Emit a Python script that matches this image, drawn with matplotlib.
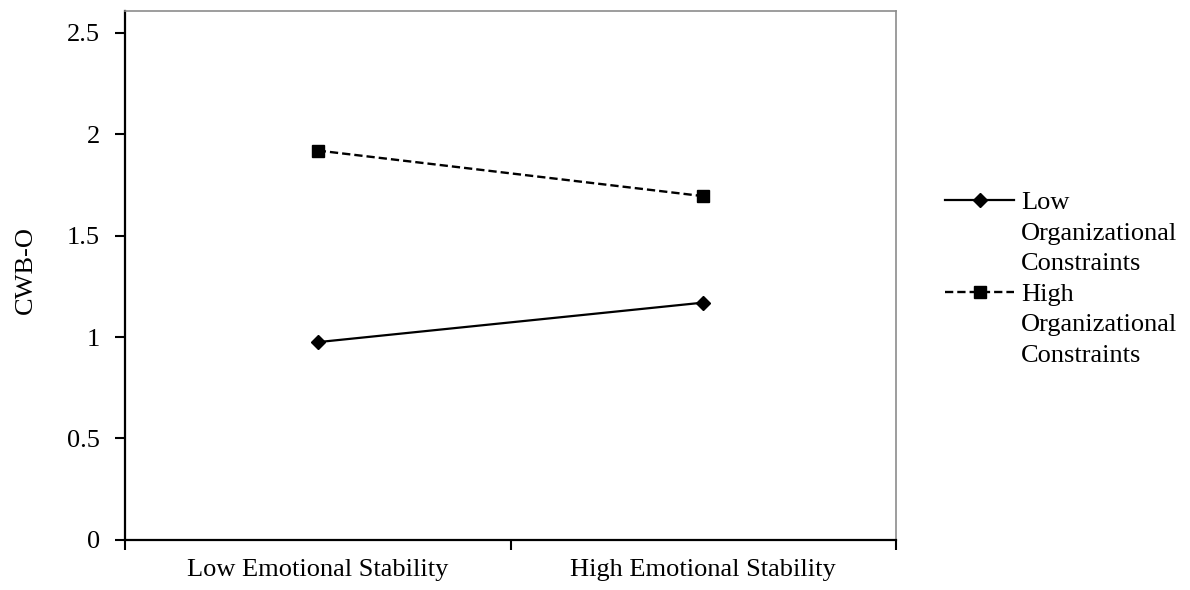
import matplotlib
matplotlib.use('Agg')
import matplotlib.pyplot as plt
from matplotlib.lines import Line2D

plt.rcParams['font.family'] = ['Liberation Serif', 'DejaVu Serif']

categories = ['Low Emotional Stability', 'High Emotional Stability']
low_constraints = [0.975, 1.17]
high_constraints = [1.92, 1.695]
series_labels = [['Low', 'Organizational', 'Constraints'],
                 ['High', 'Organizational', 'Constraints']]
y_ticks = [0, 0.5, 1, 1.5, 2, 2.5]
y_tick_labels = ['0', '0.5', '1', '1.5', '2', '2.5']

fs = 19

fig = plt.figure(figsize=(11.9, 5.9), dpi=100)
ax = fig.add_axes([0.105, 0.085, 0.648, 0.897])

x = [0.5, 1.5]
l1, = ax.plot(x, low_constraints, color='black', linewidth=1.6, marker='D', markersize=7.5)
l2, = ax.plot(x, high_constraints, color='black', linewidth=1.7, linestyle=(0, (3.5, 1.7)),
              marker='s', markersize=9)

ax.set_xlim(0, 2)
ax.set_ylim(0, 2.61)
ax.set_yticks(y_ticks)
ax.set_yticklabels(y_tick_labels)
ax.set_xticks([0, 1, 2])
ax.set_xticklabels([])
ax.set_xticks(x, minor=True)
ax.set_xticklabels(categories, minor=True)
ax.tick_params(axis='x', which='minor', length=0, pad=14, labelsize=fs)
ax.tick_params(axis='x', which='major', length=7, width=1.5, direction='out')
ax.tick_params(axis='y', length=7, width=1.5, direction='out', labelsize=fs, pad=11)

for s in ['left', 'bottom']:
    ax.spines[s].set_color('black')
    ax.spines[s].set_linewidth(1.6)
for s in ['top', 'right']:
    ax.spines[s].set_color('#8c8c8c')
    ax.spines[s].set_linewidth(1.2)

ax.set_ylabel('CWB-O', fontsize=fs, labelpad=22)
ax.yaxis.label.set_y(0.51)

# legend: one handle per series on the first line, continuation lines with blank handles
blank = Line2D([], [], linestyle='none')
handles = [l1, blank, blank, l2, blank, blank]
labels = series_labels[0] + series_labels[1]
ax.legend(handles, labels, loc='upper left', bbox_to_anchor=(1.064, 0.66), frameon=False,
          fontsize=fs, handlelength=2.6, handletextpad=0.27, labelspacing=0.27,
          borderaxespad=0, borderpad=0)

fig.savefig('out.png', dpi=100)
